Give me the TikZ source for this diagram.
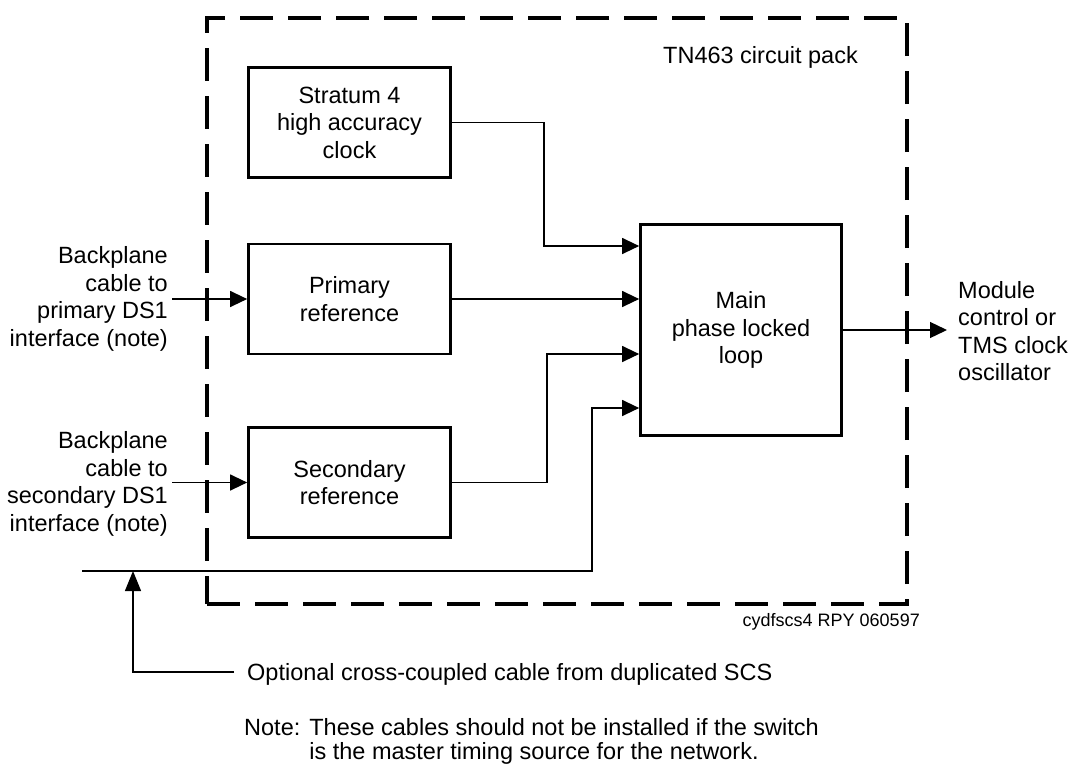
\documentclass[tikz,border=0pt]{standalone}
\usepackage{fontspec}
\setmainfont{Liberation Sans}
\usetikzlibrary{arrows.meta,calc}
\begin{document}
\begin{tikzpicture}[x=1pt,y=-1pt,
  txt/.style={font=\fontsize{23.5pt}{27.5pt}\selectfont, inner sep=0pt},
  blockbox/.style={txt, draw, line width=2.7pt, minimum width=202pt, minimum height=110pt, inner sep=0pt, align=center},
  conn/.style={line width=1.3pt},
  arr/.style={conn, -{Triangle[length=17pt,width=16pt]}},
  uparr/.style={conn, -{Triangle[length=20pt,width=16pt]}},
  packbox/.style={draw, line width=3.5pt, dash pattern=on 33pt off 15pt, minimum width=700pt, minimum height=586pt, inner sep=0pt}
]
\useasboundingbox (0,0) rectangle (1072,764);

% circuit pack outline
\node[packbox] (pack) at (557,311) {};
\node[txt, anchor=base east] (tn) at (858,63.4) {TN463 circuit pack};

% blocks
\node[blockbox] (strat) at (349.5,122.5) {Stratum 4\\high accuracy\\clock};
\node[blockbox] (prim) at (349.5,299) {Primary\\reference};
\node[blockbox] (sec) at (349.5,482.5) {Secondary\\reference};
\node[blockbox, minimum width=201pt, minimum height=211pt] (pll) at (741,330) {Main\\phase locked\\loop};

% outer labels
\node[txt, anchor=east, align=right, inner xsep=4pt] (lab1) at (172,299) {Backplane\\cable to\\primary DS1\\interface (note)};
\node[txt, anchor=east, align=right, inner xsep=4pt] (lab2) at (172,484) {Backplane\\cable to\\secondary DS1\\interface (note)};
\node[txt, anchor=west, align=left] (outl) at (958,331) {Module\\control or\\TMS clock\\oscillator};
\node[txt, anchor=base east, font=\fontsize{18pt}{21pt}\selectfont] (code) at (920,626) {cydfscs4 RPY 060597};
\node[txt, anchor=base west] (opt) at (247,680.4) {Optional cross-coupled cable from duplicated SCS};
\node[anchor=west, inner sep=0pt, font=\fontsize{23.5pt}{23pt}\selectfont] (note) at (244,742)
  {\begin{tabular}{@{}l@{\hspace{9pt}}l@{}}Note: & These cables should not be installed if the switch\\ & is the master timing source for the network.\end{tabular}};

% junction coordinates
\coordinate (j1) at (544,246);
\coordinate (j2) at (547,354);
\coordinate (j3) at (592,408);
\coordinate (bl) at (82,571);
\coordinate (tap) at (133,571);
\coordinate (tapb) at (234,672);

% connectors
\draw[arr] (strat.east) -| (j1) -- (j1 -| pll.west);
\draw[arr] (prim.east) -- (prim.east -| pll.west);
\draw[arr] (sec.east) -| (j2) -- (j2 -| pll.west);
\draw[arr] (bl) -| (j3) -- (j3 -| pll.west);
\draw[arr] (lab1.east |- prim.west) -- (prim.west);
\draw[arr] (lab2.east |- sec.west) -- (sec.west);
\draw[arr, shorten >=11pt] (pll.east) -- (pll.east -| outl.west);
\draw[uparr] (tapb) -| (tap);
\end{tikzpicture}
\end{document}
